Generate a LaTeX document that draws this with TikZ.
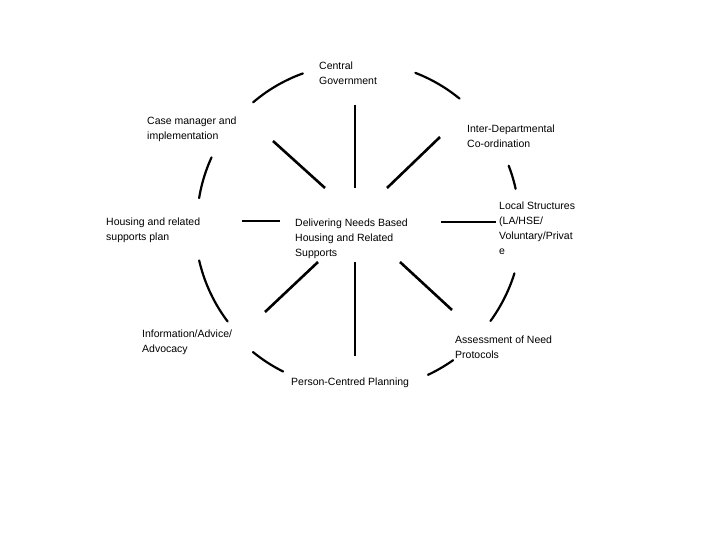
\documentclass[tikz,border=0pt]{standalone}
\usepackage{fontspec}
\setmainfont{Liberation Sans}
\begin{document}
\begin{tikzpicture}[x=1pt,y=-1pt,
  lbl/.style={anchor=north west,inner sep=0pt,align=left,font=\fontsize{10.5}{15}\selectfont},
  spoke/.style={line width=2.6pt},
  rim/.style={line width=2.2pt,line cap=round}]
\useasboundingbox[fill=white] (0,0) rectangle (720,540);
% labels
\node[lbl] (cg) at (319,61.5) {Central\\Government};
\node[lbl] (idc) at (467,124.5) {Inter-Departmental\\Co-ordination};
\node[lbl] (ls) at (499,201.5) {Local Structures\\(LA/HSE/\\Voluntary/Privat\\e};
\node[lbl] (dn) at (295,218.5) {Delivering Needs Based\\Housing and Related\\Supports};
\node[lbl] (cm) at (147,116.5) {Case manager and\\implementation};
\node[lbl] (hr) at (106,217.5) {Housing and related\\supports plan};
\node[lbl] (ia) at (142,329.5) {Information/Advice/\\Advocacy};
\node[lbl] (pc) at (291,377.5) {Person-Centred Planning};
\node[lbl] (an) at (455,335.5) {Assessment of Need\\Protocols};
% spoke end points
\coordinate (tA) at (355,105);  \coordinate (tB) at (355,188);
\coordinate (bA) at (355,262);  \coordinate (bB) at (355,356);
\coordinate (lA) at (242,221);  \coordinate (lB) at (280,221);
\coordinate (rA) at (441,222);  \coordinate (rB) at (496,222);
\coordinate (tlA) at (273,141); \coordinate (tlB) at (325,188);
\coordinate (trA) at (440,137); \coordinate (trB) at (387,188);
\coordinate (blA) at (318,262); \coordinate (blB) at (265,312);
\coordinate (brA) at (400,262); \coordinate (brB) at (452,310);
\draw[spoke] (tA) -- (tB);
\draw[spoke] (bA) -- (bB);
\draw[spoke] (lA) -- (lB);
\draw[spoke] (rA) -- (rB);
\draw[spoke] (tlA) -- (tlB);
\draw[spoke] (trA) -- (trB);
\draw[spoke] (blA) -- (blB);
\draw[spoke] (brA) -- (brB);
% rim arcs
\draw[rim] plot[domain=229.5:250.2,samples=20] ({357+160*cos(\x)},{224+160*sin(\x)});
\draw[rim] plot[domain=291.1:309.3,samples=20] ({357+162*cos(\x)},{224+162*sin(\x)});
\draw[rim] plot[domain=339:347.5,samples=12] ({357+162.5*cos(\x)},{224+162.5*sin(\x)});
\draw[rim] plot[domain=17.4:36,samples=20] ({357+165*cos(\x)},{224+165*sin(\x)});
\draw[rim] plot[domain=54.8:64.8,samples=12] ({357+166.7*cos(\x)},{224+166.7*sin(\x)});
\draw[rim] plot[domain=116.6:129.1,samples=12] ({357+165*cos(\x)},{224+165*sin(\x)});
\draw[rim] plot[domain=143:167,samples=20] ({357+162*cos(\x)},{224+162*sin(\x)});
\draw[rim] plot[domain=189.3:204.6,samples=12] ({357+160*cos(\x)},{224+160*sin(\x)});
\end{tikzpicture}
\end{document}
